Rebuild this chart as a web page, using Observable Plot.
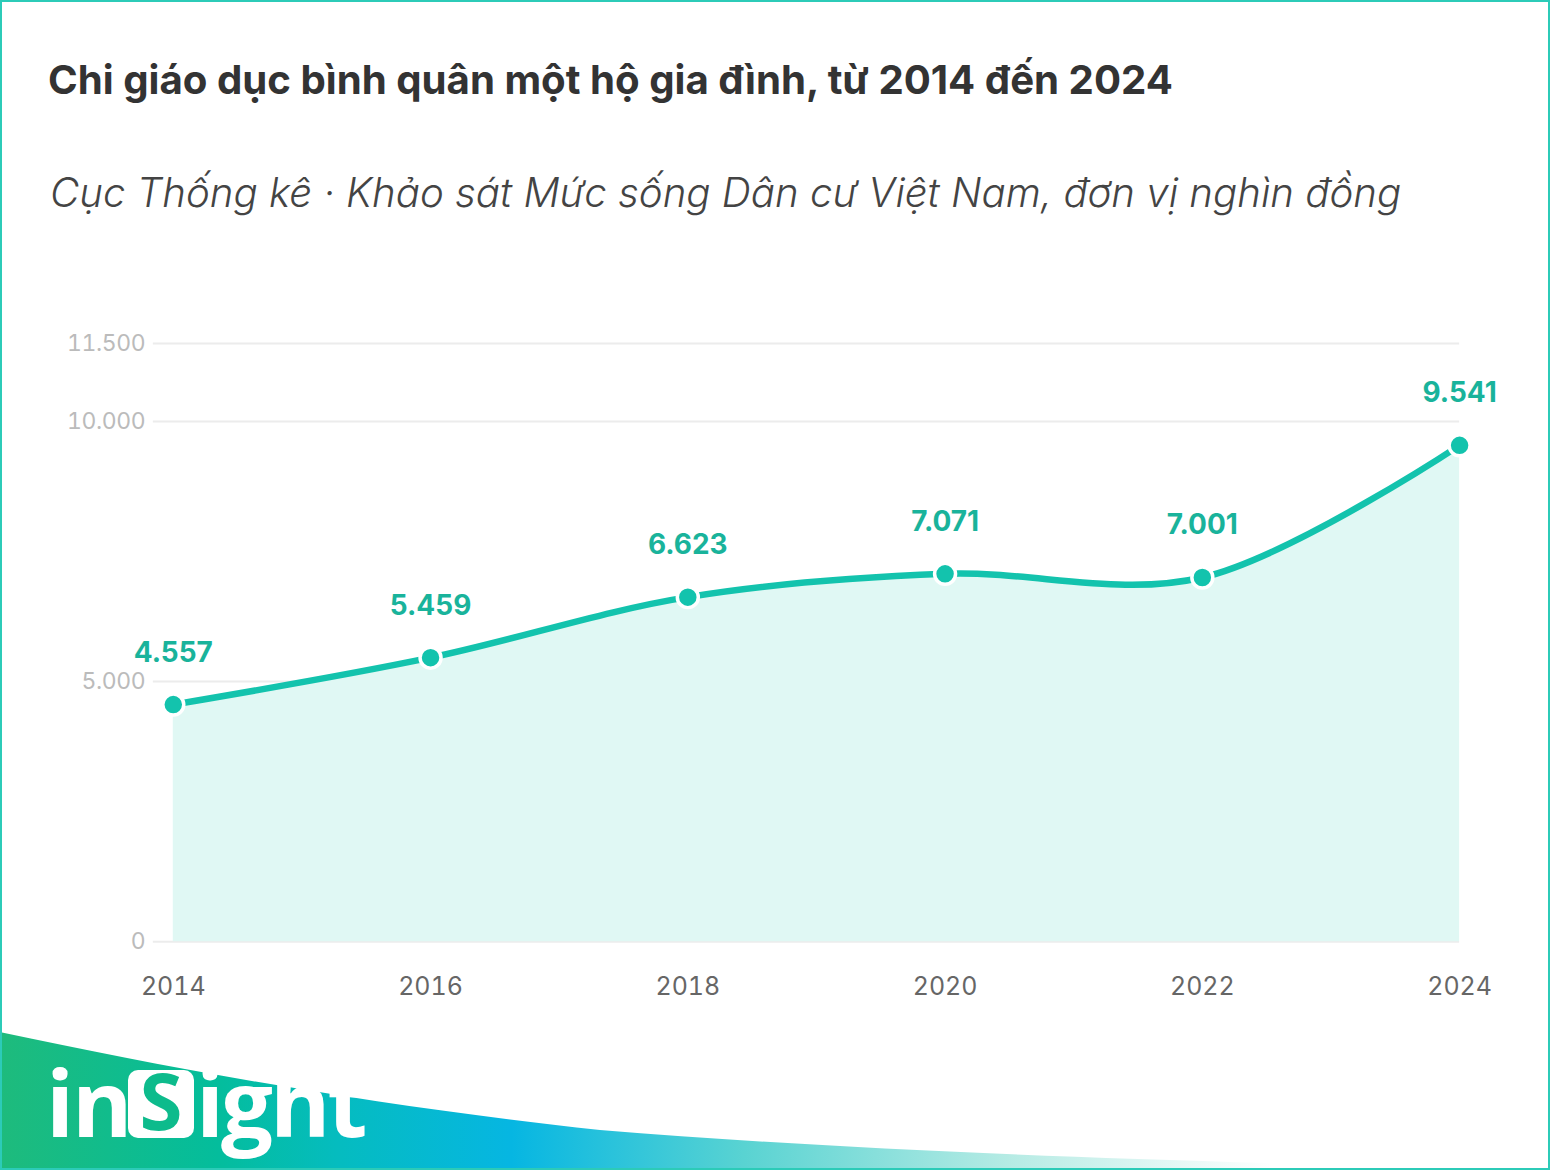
<!DOCTYPE html>
<html><head><meta charset="utf-8">
<script src="https://cdn.jsdelivr.net/npm/d3@7"></script>
<script src="https://cdn.jsdelivr.net/npm/@observablehq/plot@0.6"></script>
<style>
html,body{margin:0;padding:0;background:#fff;}
#frame{position:relative;width:1550px;height:1170px;box-sizing:border-box;border:2px solid #2ccbb8;overflow:hidden;font-family:Inter,"Noto Sans",sans-serif;}
#title{position:absolute;left:46px;top:53px;font-size:40.2px;font-weight:700;color:#333;white-space:nowrap;}
#subtitle{position:absolute;left:48px;top:166px;font-size:40.2px;font-style:italic;color:#444;white-space:nowrap;font-weight:300;}
#chart{position:absolute;left:-2px;top:298px;}
#deco{position:absolute;left:-2px;top:-2px;}
</style></head>
<body>
<div id="frame">
  <svg id="deco" width="1550" height="1170"></svg>
  <div id="title">Chi giáo dục bình quân một hộ gia đình, từ 2014 đến 2024</div>
  <div id="subtitle">Cục Thống kê · Khảo sát Mức sống Dân cư Việt Nam, đơn vị nghìn đồng</div>
  <div id="chart"></div>
</div>
<script>
const years = [2014, 2016, 2018, 2020, 2022, 2024];
const values = [4557, 5459, 6623, 7071, 7001, 9541];
const yTicks = [0, 5000, 10000, 11500];
const xTicks = [2014, 2016, 2018, 2020, 2022, 2024];

const data = years.map((y, i) => ({year: y, value: values[i]}));
const fmt = v => d3.format(",")(v).replace(/,/g, ".");

const teal = "#13c3ad";
const chart = Plot.plot({
  width: 1550,
  height: 720,
  marginTop: 43,
  marginBottom: 78,
  marginLeft: 153,
  marginRight: 89,
  style: {fontFamily: "Inter, 'Noto Sans', sans-serif", background: "transparent", overflow: "visible"},
  x: {domain: [2014, 2024], insetLeft: 20, ticks: xTicks, tickFormat: d => String(d), tickSize: 0, tickPadding: 36, label: null},
  y: {domain: [0, 11500], ticks: yTicks, tickFormat: fmt, tickSize: 0, tickPadding: 8, label: null},
  marks: [
    Plot.ruleY(yTicks, {stroke: "#ececec", strokeWidth: 2}),
    Plot.areaY(data, {x: "year", y: "value", curve: "catmull-rom", fill: "#e0f8f4"}),
    Plot.lineY(data, {x: "year", y: "value", curve: "catmull-rom", stroke: teal, strokeWidth: 6.5}),
    Plot.dot(data, {x: "year", y: "value", r: 10.5, fill: teal, stroke: "#fff", strokeWidth: 3.5}),
    Plot.text(data, {x: "year", y: "value", text: d => fmt(d.value), dy: -52, fill: "#19b39b", fontSize: 28, fontWeight: 700}),
    Plot.axisY({ticks: yTicks, tickFormat: fmt, tickSize: 0, tickPadding: 8, fontSize: 23, label: null}),
    Plot.axisX({ticks: xTicks, tickFormat: d => String(d), tickSize: 0, tickPadding: 36, fontSize: 25, label: null})
  ]
});
document.getElementById("chart").appendChild(chart);
chart.querySelectorAll('g[aria-label="y-axis tick label"]').forEach(g => {g.setAttribute("fill", "#bbb"); g.setAttribute("letter-spacing", "-0.4");});
chart.querySelectorAll('g[aria-label="x-axis tick label"]').forEach(g => g.setAttribute("fill", "#666"));

// decorative swoosh + logo
const deco = d3.select("#deco");
const defs = deco.append("defs");
const grad = defs.append("linearGradient").attr("id", "sw").attr("x1", 0).attr("x2", 1).attr("y1", 0).attr("y2", 0);
[[0, "#1ebb7c"], [0.14, "#04bd9c"], [0.22, "#05bcc0"], [0.33, "#06b6e2"], [0.48, "#59d3d2"], [0.65, "#b5ebe4"], [0.82, "#ffffff"]]
  .forEach(([o, c]) => grad.append("stop").attr("offset", o).attr("stop-color", c));
deco.append("path")
  .attr("d", "M0,1032 C170,1068 360,1104 600,1130 C850,1150 1100,1160 1550,1170 L0,1170 Z")
  .attr("fill", "url(#sw)");
const logo = deco.append("g").attr("font-family", "'Open Sans', Lato, sans-serif").attr("font-weight", 700).attr("fill", "#fff");
logo.append("text").attr("x", 46).attr("y", 1137).attr("font-size", 92).attr("letter-spacing", -2).text("in");
logo.append("rect").attr("x", 128).attr("y", 1070).attr("width", 66).attr("height", 68).attr("rx", 10).attr("fill", "#fff");
logo.append("text").attr("x", 161).attr("y", 1130).attr("font-size", 78).attr("text-anchor", "middle").attr("fill", "#0dbb8c").text("S");
logo.append("text").attr("x", 196).attr("y", 1137).attr("font-size", 92).attr("letter-spacing", -3).text("ight");
</script>
</body></html>
